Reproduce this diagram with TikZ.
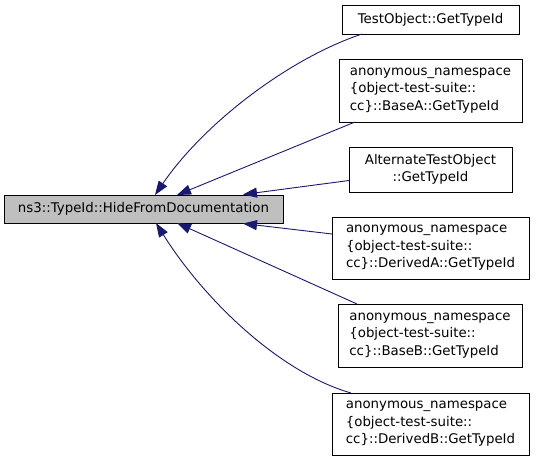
\documentclass[tikz,border=0pt]{standalone}
\usepackage{fontspec}
\setmainfont{DejaVu Sans}
\usetikzlibrary{arrows.meta}
\definecolor{edgeblue}{HTML}{191970}
\tikzset{
  box/.style={draw=black, line width=1pt, fill=white, inner sep=0pt, font=\fontsize{13.33}{17.5}\selectfont},
  mainbox/.style={box, fill=black!25},
  link/.style={draw=edgeblue, line width=0.9pt, -{Triangle[length=14pt,width=10pt,fill=edgeblue]}}
}
\begin{document}
\begin{tikzpicture}[x=1pt,y=-1pt]
\useasboundingbox (0,0) rectangle (536,461);
\node[mainbox, minimum width=279pt, minimum height=28pt] (m) at (143.5,209) {ns3::TypeId::HideFromDocumentation};
\node[box, minimum width=177pt, minimum height=29pt] (t1) at (430.5,19.5) {TestObject::GetTypeId};
\node[box, minimum width=183pt, minimum height=63pt, align=left] (t2) at (430.5,90.5) {anonymous\_namespace\\\{object-test-suite::\\cc\}::BaseA::GetTypeId};
\node[box, minimum width=163pt, minimum height=45pt, align=center] (t3) at (430.5,169.5) {AlternateTestObject\\::GetTypeId};
\node[box, minimum width=197pt, minimum height=62pt, align=left] (t4) at (430.5,248) {anonymous\_namespace\\\{object-test-suite::\\cc\}::DerivedA::GetTypeId};
\node[box, minimum width=184pt, minimum height=63pt, align=left] (t5) at (430,335.5) {anonymous\_namespace\\\{object-test-suite::\\cc\}::BaseB::GetTypeId};
\node[box, minimum width=197pt, minimum height=62pt, align=left] (t6) at (430.5,424) {anonymous\_namespace\\\{object-test-suite::\\cc\}::DerivedB::GetTypeId};
\coordinate (a1) at (155,195);
\coordinate (a2) at (177,195);
\coordinate (a3) at (243,194.5);
\coordinate (a4) at (243,223.5);
\coordinate (a5) at (177,223);
\coordinate (a6) at (156,223);
\coordinate (s1) at (362,34);
\coordinate (s2) at (355,122);
\coordinate (s3) at (349,180.5);
\coordinate (s4) at (332,234);
\coordinate (s5) at (357,304);
\coordinate (s6) at (351,393);
\draw[link] (s1) .. controls (290,58) and (205,122) .. (a1);
\draw[link] (s2) -- (a2);
\draw[link] (s3) -- (a3);
\draw[link] (s4) -- (a4);
\draw[link] (s5) -- (a5);
\draw[link] (s6) .. controls (278,372) and (203,298) .. (a6);
\end{tikzpicture}
\end{document}
